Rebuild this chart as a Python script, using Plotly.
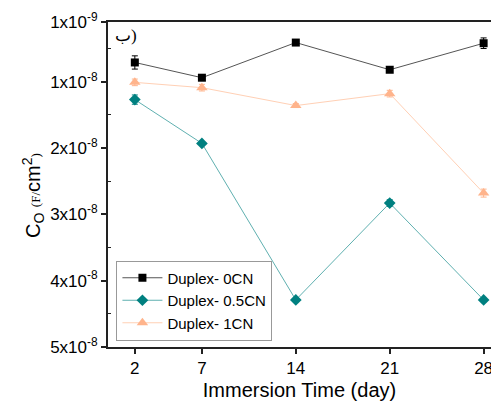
import plotly.graph_objects as go

days = [2, 7, 14, 21, 28]
c0 = [7.1e-9, 9.4e-9, 4.1e-9, 8.2e-9, 4.2e-9]
c0_err = [1.0e-9, 0.3e-9, 0.3e-9, 0.3e-9, 0.8e-9]
c05 = [1.27e-8, 1.93e-8, 4.29e-8, 2.83e-8, 4.29e-8]
c05_err = [0.7e-9, 0.2e-9, 0.2e-9, 0.5e-9, 0.2e-9]
c1 = [1.01e-8, 1.09e-8, 1.36e-8, 1.18e-8, 2.68e-8]
c1_err = [0.5e-9, 0.5e-9, 0.3e-9, 0.5e-9, 0.6e-9]

ytickvals = [1e-9, 1e-8, 2e-8, 3e-8, 4e-8, 5e-8]
yticktext = ["1x10<sup>-9</sup>", "1x10<sup>-8</sup>", "2x10<sup>-8</sup>",
             "3x10<sup>-8</sup>", "4x10<sup>-8</sup>", "5x10<sup>-8</sup>"]

fig = go.Figure()
series = [
    ("Duplex- 0CN", c0, c0_err, "#000000", "#555555", "square", 8),
    ("Duplex- 0.5CN", c05, c05_err, "#008080", "#5fb0b0", "diamond", 9),
    ("Duplex- 1CN", c1, c1_err, "#ffb48c", "#ffd0b5", "triangle-up", 10),
]
for name, vals, err, mc, lc, sym, sz in series:
    fig.add_trace(go.Scatter(
        x=days, y=vals, name=name, mode="lines+markers",
        line=dict(color=lc, width=1),
        marker=dict(symbol=sym, size=sz, color=mc),
        error_y=dict(type="data", array=err, color=mc, thickness=1, width=3),
        cliponaxis=False,
    ))

ytitle = ("C<sub>O</sub> <span style='font-family:Liberation Serif;font-size:13px'>(F/</span>"
          "cm<sup>2</sup><span style='font-family:Liberation Serif;font-size:13px'>)</span>"
          "&nbsp;&nbsp;&nbsp;&nbsp;")

fig.update_layout(
    width=491, height=409,
    margin=dict(l=108, r=0, t=22, b=62, autoexpand=False),
    plot_bgcolor="white", paper_bgcolor="white",
    font=dict(family="Arial, Liberation Sans", size=15, color="#000"),
    showlegend=True,
    legend=dict(x=0.022, y=0.02, xanchor="left", yanchor="bottom",
                bordercolor="#999999", borderwidth=1, bgcolor="white",
                font=dict(size=15), tracegroupgap=0, itemwidth=40),
    xaxis=dict(range=[0, 28.55], tickvals=days, showgrid=False, zeroline=False,
               showline=True, linecolor="#222", linewidth=2, mirror=True,
               ticks="outside", ticklen=5, tickwidth=1.5, tickcolor="#222",
               tickfont=dict(size=17), automargin=False, ticklabeloverflow="allow",
               title=dict(text="Immersion Time (day)", font=dict(size=20), standoff=6)),
    yaxis=dict(range=[5e-8, 1e-9], tickvals=ytickvals, ticktext=yticktext,
               showgrid=False, zeroline=False, automargin=False,
               showline=True, linecolor="#222", linewidth=2, mirror=False,
               ticks="outside", ticklen=5, tickwidth=1.5, tickcolor="#222",
               tickfont=dict(size=17),
               minor=dict(tickvals=[5e-9, 1.5e-8, 2.5e-8, 3.5e-8, 4.5e-8],
                          ticks="inside", ticklen=3, tickcolor="#222", tickwidth=1),
               title=dict(text=ytitle, font=dict(size=20), standoff=4)),
)
fig.add_annotation(text="ب)", xref="paper", yref="paper", x=0.012, y=0.995,
                   xanchor="left", yanchor="top", showarrow=False,
                   font=dict(family="Liberation Serif", size=17, color="#000"))

fig.write_html("out.html", config={"displayModeBar": False},
               post_script="document.body.style.margin='0';document.body.style.overflow='hidden';")
